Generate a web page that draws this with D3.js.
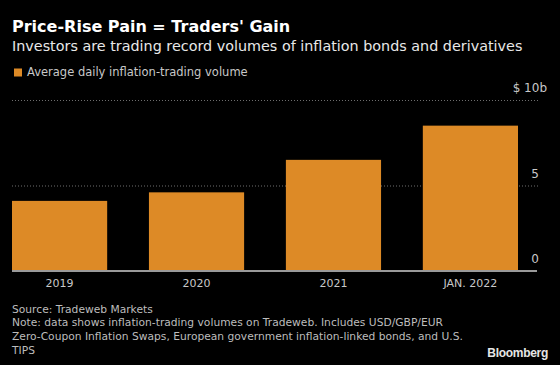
<!DOCTYPE html>
<html>
  <head>
    <meta charset="utf-8">
    <script src="https://d3js.org/d3.v7.min.js" charset="utf-8"></script>
    <style>
      body { margin: 0; background: #000; }
      text { font-family: "DejaVu Sans", sans-serif; }
    </style>
  </head>
  <body>
    <svg id="chart"></svg>
    <script type="text/javascript">
      var categories = ["2019", "2020", "2021", "JAN. 2022"];
      var volumes = [4.1, 4.6, 6.5, 8.5];
      var yTicks = [0, 5, 10];
      var title = "Price-Rise Pain = Traders' Gain";
      var subtitle = "Investors are trading record volumes of inflation bonds and derivatives";
      var legendLabel = "Average daily inflation-trading volume";
      var footer = [
        "Source: Tradeweb Markets",
        "Note: data shows inflation-trading volumes on Tradeweb. Includes USD/GBP/EUR",
        "Zero-Coupon Inflation Swaps, European government inflation-linked bonds, and U.S.",
        "TIPS"
      ];

      var W = 560, H = 365;
      var orange = "#dd8a26";

      var svg = d3.select("#chart")
        .attr("width", W)
        .attr("height", H)
        .style("background-color", "#000");

      var x = d3.scaleBand()
        .domain(categories)
        .range([12, 518])
        .paddingInner(0.305)
        .paddingOuter(0);

      var y = d3.scaleLinear()
        .domain([0, 10])
        .range([271, 100]);

      // headings
      svg.append("text")
        .attr("x", 12).attr("y", 32)
        .attr("fill", "#fff")
        .style("font-size", "16px")
        .style("font-weight", "bold")
        .text(title);

      svg.append("text")
        .attr("x", 12).attr("y", 51)
        .attr("fill", "#e8e8e8")
        .style("font-size", "14.35px")
        .text(subtitle);

      // legend
      svg.append("rect")
        .attr("x", 14).attr("y", 68.5)
        .attr("width", 8).attr("height", 8)
        .attr("fill", orange);
      svg.append("text")
        .attr("x", 27).attr("y", 76)
        .attr("fill", "#c8c8c8")
        .style("font-size", "11.5px")
        .text(legendLabel);

      // gridlines + y labels
      var grid = svg.append("g");
      grid.selectAll("line")
        .data(yTicks.filter(function(d) { return d > 0; }))
        .enter().append("line")
        .attr("x1", 12).attr("x2", 538)
        .attr("y1", function(d) { return y(d) + 0.5; })
        .attr("y2", function(d) { return y(d) + 0.5; })
        .attr("stroke", "#6e6e6e")
        .attr("stroke-width", 1)
        .attr("stroke-dasharray", "1,2");

      grid.selectAll("text")
        .data(yTicks)
        .enter().append("text")
        .attr("x", function(d) { return d === 10 ? 547 : 539; })
        .attr("y", function(d) { return y(d) - 8; })
        .attr("text-anchor", "end")
        .attr("fill", "#c8c8c8")
        .style("font-size", "12px")
        .text(function(d) { return d === 10 ? "$ 10b" : d; });

      // bars
      svg.append("g").selectAll("rect")
        .data(volumes)
        .enter().append("rect")
        .attr("x", function(d, i) { return x(categories[i]); })
        .attr("y", function(d) { return y(d); })
        .attr("width", x.bandwidth())
        .attr("height", function(d) { return y(0) - y(d); })
        .attr("fill", orange);

      // baseline
      svg.append("line")
        .attr("x1", 12).attr("x2", 537)
        .attr("y1", y(0)).attr("y2", y(0))
        .attr("stroke", "#9a9a9a")
        .attr("stroke-width", 2);

      // x axis labels
      var xAxis = d3.axisBottom(x).tickSize(0).tickPadding(8);
      var xg = svg.append("g")
        .attr("transform", "translate(0," + y(0) + ")")
        .call(xAxis);
      xg.select(".domain").remove();
      xg.selectAll("text")
        .attr("fill", "#c8c8c8")
        .style("font-family", "DejaVu Sans, sans-serif")
        .style("font-size", "11px");

      // footer
      svg.append("g").selectAll("text")
        .data(footer)
        .enter().append("text")
        .attr("x", 12)
        .attr("y", function(d, i) { return 312.5 + i * 13.8; })
        .attr("fill", "#bdbdbd")
        .style("font-size", "10.7px")
        .text(function(d) { return d; });

      svg.append("text")
        .attr("x", 548).attr("y", 356.5)
        .attr("text-anchor", "end")
        .attr("fill", "#e6e6e6")
        .style("font-family", "Liberation Sans, Arial, sans-serif")
        .style("font-size", "12px")
        .style("font-weight", "bold")
        .style("letter-spacing", "-0.3px")
        .text("Bloomberg");
    </script>
  </body>
</html>
